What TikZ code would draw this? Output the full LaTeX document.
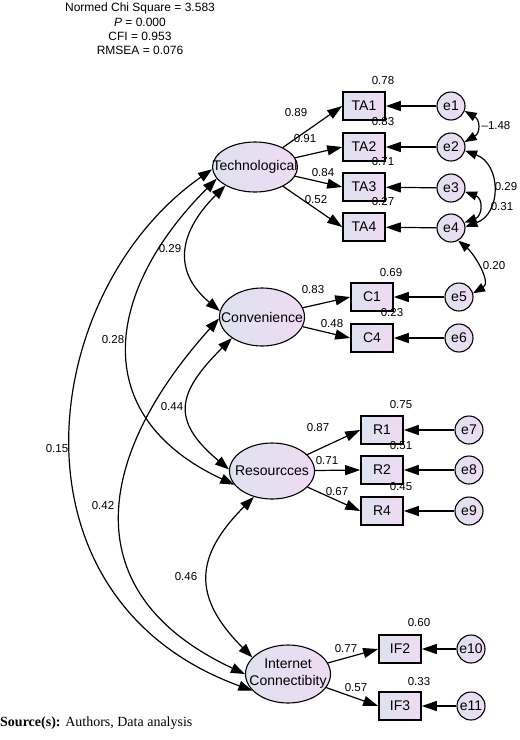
\documentclass[tikz,border=0pt]{standalone}
\usepackage{fontspec}
\setmainfont{Liberation Sans}
\newfontfamily\srcfont{Liberation Serif}
\usetikzlibrary{positioning, shapes.geometric, arrows.meta}

\definecolor{shadeL}{RGB}{222,226,239}
\definecolor{shadeR}{RGB}{239,219,243}

% text that does not widen its node
\newcommand{\nowide}[1]{\makebox[0pt]{#1}}

\begin{document}
\begin{tikzpicture}[x=1pt, y=1pt,
  % Node Styles
  lnode/.style={ellipse, draw, line width=1.1pt, left color=shadeL, right color=shadeR, minimum width=85pt, minimum height=56pt, inner sep=0pt, font=\fontsize{14}{17}\selectfont},
  inode/.style={rectangle, draw, line width=1.6pt, left color=shadeL, right color=shadeR, minimum width=42pt, minimum height=28pt, inner sep=0pt, font=\fontsize{14}{15}\selectfont},
  enode/.style={circle, draw, line width=1.1pt, left color=shadeL, right color=shadeR, minimum size=28pt, inner sep=0pt, font=\fontsize{14}{15}\selectfont},
  % Arrow Styles
  patharrow/.style={-{Triangle[length=15pt, width=10pt]}, line width=1.2pt, black},
  covarrow/.style={{Triangle[length=14pt, width=10pt]}-{Triangle[length=14pt, width=10pt]}, line width=1.2pt, black},
  errcov/.style={{Triangle[length=12pt, width=9pt]}-{Triangle[length=12pt, width=9pt]}, line width=1.2pt, black},
  % Text
  lbl/.style={inner sep=0pt, font=\fontsize{11.5}{12}\selectfont},
  fitnote/.style={align=center, inner sep=0pt, font=\fontsize{12}{14.2}\selectfont}
]
\useasboundingbox (0,0) rectangle (520,-740);

% fit indices
\node[fitnote] (fit) at (140,-29) {Normed Chi Square = 3.583\\\textit{P} = 0.000\\CFI = 0.953\\RMSEA = 0.076};

% latent variables
\node[lnode, minimum height=50pt] (tech) at (255,-167) {\nowide{Technological}};
\node[lnode, minimum height=58pt] (conv) at (262,-317) {\nowide{Convenience}};
\node[lnode] (res) at (272,-471) {\nowide{Resourcces}};
\node[lnode, minimum height=58pt] (inet) at (288,-674) {\nowide{\begin{tabular}{@{}c@{}}Internet\\Connectibity\end{tabular}}};

% indicators
\node[inode] (TA1) at (364,-106) {TA1};
\node[inode] (TA2) at (364,-147) {TA2};
\node[inode] (TA3) at (364,-187) {TA3};
\node[inode] (TA4) at (364,-227) {TA4};
\node[inode] (C1) at (372,-297) {C1};
\node[inode] (C4) at (372,-338) {C4};
\node[inode] (R1) at (382,-430) {R1};
\node[inode] (R2) at (382,-470) {R2};
\node[inode] (R4) at (382,-511) {R4};
\node[inode] (IF2) at (400,-649) {IF2};
\node[inode] (IF3) at (400,-706) {IF3};

% error terms
\node[enode] (e1) at (451,-106) {e1};
\node[enode] (e2) at (451,-147) {e2};
\node[enode] (e3) at (451,-188) {e3};
\node[enode] (e4) at (451,-228) {e4};
\node[enode] (e5) at (459,-297) {e5};
\node[enode] (e6) at (459,-338) {e6};
\node[enode] (e7) at (469,-430) {e7};
\node[enode] (e8) at (469,-470) {e8};
\node[enode] (e9) at (469,-511) {e9};
\node[enode] (e10) at (471,-649) {\nowide{e10}};
\node[enode] (e11) at (471,-706) {\nowide{e11}};

% loadings
\draw[patharrow] (tech) -- (TA1.west);
\draw[patharrow] (tech) -- (TA2.west);
\draw[patharrow] (tech) -- (TA3.west);
\draw[patharrow] (tech) -- (TA4.west);
\draw[patharrow] (conv) -- (C1.west);
\draw[patharrow] (conv) -- (C4.west);
\draw[patharrow] (res) -- (R1.west);
\draw[patharrow] (res) -- (R2.west);
\draw[patharrow] (res) -- (R4.west);
\draw[patharrow] (inet) -- (IF2.west);
\draw[patharrow] (inet) -- (IF3.west);

% error paths
\foreach \e/\i in {e1/TA1, e2/TA2, e3/TA3, e4/TA4, e5/C1, e6/C4, e7/R1, e8/R2, e9/R4, e10/IF2, e11/IF3}
  \draw[patharrow] (\e) -- (\i);

% covariances between latents
\draw[covarrow] (tech.212) to[out=225, in=140, looseness=1.3] (conv.172);
\draw[covarrow] (conv.215) to[out=225, in=140, looseness=1.5] (res.178);
\draw[covarrow] (res.235) to[out=225, in=135, looseness=1.35] (inet.155);
\draw[covarrow] (tech.197) to[out=225, in=155, out distance=157pt, in distance=164pt] (res.200);
\draw[covarrow] (conv.182) to[out=228, in=155, out distance=185pt, in distance=190pt] (inet.180);
\draw[covarrow] (tech.183) to[out=215, in=160, out distance=213pt, in distance=270pt] (inet.205);

% covariances between errors
\draw[errcov] (e1.-20) to[out=-30, in=30, looseness=1.5] (e2.20);
\draw[errcov] (e2.-15) to[out=-20, in=20, looseness=1.3] (e4.5);
\draw[errcov] (e3.-15) to[out=-20, in=20, looseness=1.6] (e4.22);
\draw[errcov] (e4.-60) to[out=-40, in=30] (e5.15);

% squared multiple correlations
\node[lbl] (sTA1) at (383,-81) {0.78};
\node[lbl] (sTA2) at (383,-122) {0.83};
\node[lbl] (sTA3) at (383,-162) {0.71};
\node[lbl] (sTA4) at (383,-202) {0.27};
\node[lbl] (sC1) at (391,-273) {0.69};
\node[lbl] (sC4) at (392,-313) {0.23};
\node[lbl] (sR1) at (401,-405) {0.75};
\node[lbl] (sR2) at (401,-446) {0.51};
\node[lbl] (sR4) at (401,-487) {0.45};
\node[lbl] (sIF2) at (419,-623) {0.60};
\node[lbl] (sIF3) at (419,-682) {0.33};

% loading values
\node[lbl] (wTA1) at (296,-113) {0.89};
\node[lbl] (wTA2) at (305,-139) {0.91};
\node[lbl] (wTA3) at (323,-173) {0.84};
\node[lbl] (wTA4) at (316,-200) {0.52};
\node[lbl] (wC1) at (313,-290) {0.83};
\node[lbl] (wC4) at (332,-324) {0.48};
\node[lbl] (wR1) at (318,-428) {0.87};
\node[lbl] (wR2) at (327,-461) {0.71};
\node[lbl] (wR4) at (337,-492) {0.67};
\node[lbl] (wIF2) at (346,-649) {0.77};
\node[lbl] (wIF3) at (356,-688) {0.57};

% covariance values
\node[lbl] (cTC) at (170,-249) {0.29};
\node[lbl] (cTR) at (113,-340) {0.28};
\node[lbl] (cCR) at (172,-407) {0.44};
\node[lbl] (cTI) at (57,-449) {0.15};
\node[lbl] (cCI) at (103,-506) {0.42};
\node[lbl] (cRI) at (186,-577) {0.46};
\node[lbl] (c12) at (496,-126) {\textendash1.48};
\node[lbl] (c24) at (506,-187) {0.29};
\node[lbl] (c34) at (502,-207) {0.31};
\node[lbl] (c45) at (494,-266) {0.20};

% source
\node[anchor=west, inner sep=0pt, font=\srcfont\fontsize{14}{15}\selectfont] (src) at (0,-723) {\textbf{Source(s):} Authors, Data analysis};

\end{tikzpicture}
\end{document}
